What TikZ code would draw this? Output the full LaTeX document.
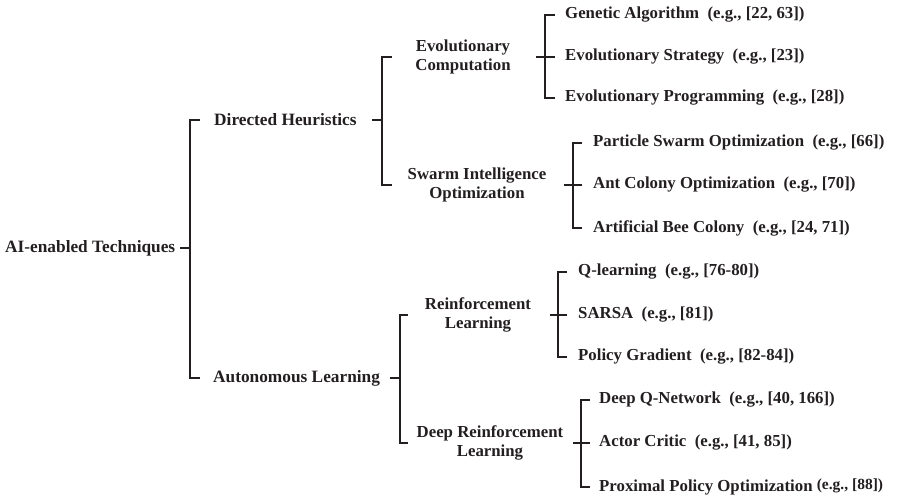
\documentclass[tikz,border=0pt]{standalone}
\usepackage{fontspec}
\setmainfont{Liberation Serif}
\usetikzlibrary{calc}
\definecolor{ink}{HTML}{231F20}
\tikzset{
  x=1pt, y=-1pt,
  br/.style={draw=ink, line width=2.4pt},
  big/.style={text=ink, inner sep=0pt, font=\fontsize{17.3}{18}\selectfont\bfseries},
  mid/.style={text=ink, inner sep=0pt, align=center, font=\fontsize{16.8}{18.5}\selectfont\bfseries},
  leaf/.style={text=ink, inner sep=0pt, anchor=west, font=\fontsize{16.8}{18}\selectfont\bfseries},
}
\newcommand\egref[1]{~~(e.g., [#1])}
\begin{document}
\begin{tikzpicture}
\useasboundingbox (0,0) rectangle (920,500);

% root and first level
\node[big, anchor=west] (root) at (5,248) {AI-enabled Techniques};
\node[big, anchor=west] (dh) at (214,120) {Directed Heuristics};
\node[big, anchor=west] (al) at (213,378) {Autonomous Learning};

% second level
\node[mid] (ec)  at (463,57)  {Evolutionary\\Computation};
\node[mid] (sio) at (477,185) {Swarm Intelligence\\Optimization};
\node[mid] (rl)  at (478,315) {Reinforcement\\Learning};
\node[mid] (drl) at (490,443) {Deep Reinforcement\\Learning};

% leaves
\node[leaf] (ga)  at (565,15)  {Genetic Algorithm\egref{22, 63}};
\node[leaf] (es)  at (565,57)  {Evolutionary Strategy\egref{23}};
\node[leaf] (ep)  at (565,98)  {Evolutionary Programming\egref{28}};
\node[leaf] (pso) at (593,143) {Particle Swarm Optimization\egref{66}};
\node[leaf] (aco) at (593,185) {Ant Colony Optimization\egref{70}};
\node[leaf] (abc) at (593,228) {Artificial Bee Colony\egref{24, 71}};
\node[leaf] (ql)  at (578,272) {Q-learning\egref{76-80}};
\node[leaf] (sa)  at (578,315) {SARSA\egref{81}};
\node[leaf] (pg)  at (578,357) {Policy Gradient\egref{82-84}};
\node[leaf] (dqn) at (599,400) {Deep Q-Network\egref{40, 166}};
\node[leaf] (ac)  at (599,443) {Actor Critic\egref{41, 85}};
\node[leaf] (ppo) at (599,487) {Proximal Policy Optimization~\raisebox{1.2pt}{\fontsize{15.5}{16}\selectfont(e.g., [88])}};

% spine positions of the brackets
\coordinate (x0) at (190,0);
\coordinate (x1) at (382,0);
\coordinate (x2) at (545,0);
\coordinate (x3) at (573,0);
\coordinate (x4) at (400,0);
\coordinate (x5) at (558,0);
\coordinate (x6) at (581,0);

% bracket: parent tick, then spine with child ticks
\draw[br] ($(x0 |- root)+(-10,0)$) -- (x0 |- root);
\draw[br] ($(x0 |- dh)+(10,0)$) -- (x0 |- dh) -- (x0 |- al) -- ($(x0 |- al)+(10,0)$);

\draw[br] ($(x1 |- dh)+(-10,0)$) -- (x1 |- dh);
\draw[br] ($(x1 |- ec)+(10,0)$) -- (x1 |- ec) -- (x1 |- sio) -- ($(x1 |- sio)+(10,0)$);

\draw[br] ($(x2 |- ec)+(-9,0)$) -- ($(x2 |- es)+(10,0)$);
\draw[br] ($(x2 |- ga)+(10,0)$) -- (x2 |- ga) -- (x2 |- ep) -- ($(x2 |- ep)+(10,0)$);

\draw[br] ($(x3 |- sio)+(-9,0)$) -- ($(x3 |- aco)+(9,0)$);
\draw[br] ($(x3 |- pso)+(9,0)$) -- (x3 |- pso) -- (x3 |- abc) -- ($(x3 |- abc)+(9,0)$);

\draw[br] ($(x4 |- al)+(-10,0)$) -- (x4 |- al);
\draw[br] ($(x4 |- rl)+(8,0)$) -- (x4 |- rl) -- (x4 |- drl) -- ($(x4 |- drl)+(8,0)$);

\draw[br] ($(x5 |- rl)+(-8,0)$) -- ($(x5 |- sa)+(9,0)$);
\draw[br] ($(x5 |- ql)+(9,0)$) -- (x5 |- ql) -- (x5 |- pg) -- ($(x5 |- pg)+(9,0)$);

\draw[br] ($(x6 |- drl)+(-8,0)$) -- ($(x6 |- ac)+(9,0)$);
\draw[br] ($(x6 |- dqn)+(9,0)$) -- (x6 |- dqn) -- (x6 |- ppo) -- ($(x6 |- ppo)+(9,0)$);
\end{tikzpicture}
\end{document}
